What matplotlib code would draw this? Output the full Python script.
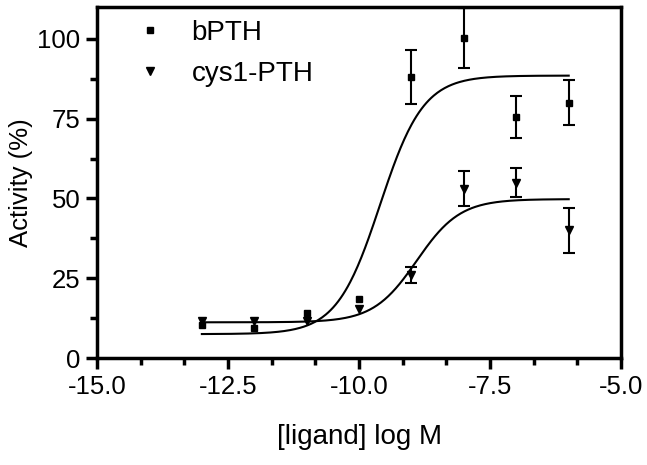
import numpy as np
import matplotlib
matplotlib.use("Agg")
import matplotlib.pyplot as plt
from matplotlib.ticker import MultipleLocator, FormatStrFormatter

plt.rcParams['font.family'] = ['Liberation Sans', 'DejaVu Sans']

# log concentration of ligand
log_conc = [-13, -12, -11, -10, -9, -8, -7, -6]

# bPTH activity (%) and SEM (nan = bar hidden behind marker)
bpth = [10.5, 9.5, 14.0, 18.5, 88.0, 100.3, 75.5, 80.0]
bpth_err = [np.nan, np.nan, np.nan, np.nan, 8.5, 9.5, 6.5, 7.0]

# cys1-PTH activity (%) and SEM
cys1 = [11.5, 11.5, 11.5, 15.5, 26.0, 53.0, 55.0, 40.0]
cys1_err = [np.nan, np.nan, np.nan, np.nan, 2.5, 5.5, 4.5, 7.0]

# fitted sigmoid parameters: bottom, top, logEC50, hill slope
bpth_fit = [7.5, 88.5, -9.6, 1.05]
cys1_fit = [11.2, 49.8, -8.9, 1.05]


def sigmoid(x, bottom, top, logec50, hill):
    return bottom + (top - bottom) / (1 + 10 ** ((logec50 - x) * hill))


fig, ax = plt.subplots(figsize=(6.47, 4.65), dpi=100)

xfit = np.linspace(min(log_conc), max(log_conc), 300)
ax.plot(xfit, sigmoid(xfit, *bpth_fit), color="black", lw=1.5)
ax.plot(xfit, sigmoid(xfit, *cys1_fit), color="black", lw=1.5)

ax.errorbar(log_conc, bpth, yerr=bpth_err, fmt="s", color="black", ms=5,
            elinewidth=1.5, capsize=4, capthick=1.5, label="bPTH")
ax.errorbar(log_conc, cys1, yerr=cys1_err, fmt="v", color="black", ms=6,
            elinewidth=1.5, capsize=4, capthick=1.5, label="cys1-PTH")

ax.set_xlim(-15, -5)
ax.set_ylim(0, 110)
ax.xaxis.set_major_locator(MultipleLocator(2.5))
ax.xaxis.set_minor_locator(MultipleLocator(2.5 / 3))
ax.xaxis.set_major_formatter(FormatStrFormatter("%.1f"))
ax.yaxis.set_major_locator(MultipleLocator(25))
ax.yaxis.set_minor_locator(MultipleLocator(12.5))

for s in ax.spines.values():
    s.set_linewidth(2.5)
ax.tick_params(which="major", direction="out", length=8, width=2.5, labelsize=18.5, pad=4)
ax.tick_params(which="minor", direction="out", length=5, width=2.5)

ax.set_xlabel("[ligand] log M", fontsize=20, labelpad=18)
ax.set_ylabel("Activity (%)", fontsize=18.5, labelpad=3)

handles, labels = ax.get_legend_handles_labels()
handles = [h[0] for h in handles]
ax.legend(handles, labels, loc="upper left", frameon=False, fontsize=20,
          bbox_to_anchor=(0.0, 1.035), handletextpad=0.5, labelspacing=0.55)

fig.subplots_adjust(left=0.15, right=0.96, bottom=0.23, top=0.985)
fig.savefig("out.png", dpi=100)
